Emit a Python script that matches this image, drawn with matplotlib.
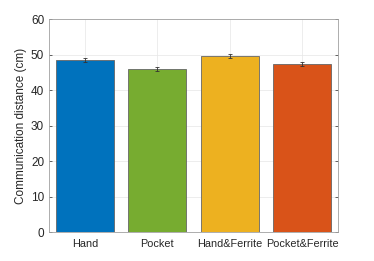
import matplotlib.pyplot as plt

plt.rcParams["font.family"] = ["Liberation Sans", "DejaVu Sans"]

# data
labels = ["Hand", "Pocket", "Hand&Ferrite", "Pocket&Ferrite"]
distance = [48.5, 46.0, 49.6, 47.3]
errors = [0.5, 0.5, 0.5, 0.5]
colors = ["#0072BD", "#77AC30", "#EDB120", "#D95319"]

fig = plt.figure(figsize=(3.74, 2.61), dpi=100)
ax = fig.add_axes([0.131, 0.111, 0.773, 0.816])

x = range(1, len(labels) + 1)
ax.bar(x, distance, width=0.8, color=colors, edgecolor="#666666", linewidth=0.6, zorder=2)
ax.errorbar(x, distance, yerr=errors, fmt="none", ecolor="#333333",
            elinewidth=0.6, capsize=1.5, capthick=0.6, zorder=3)

ax.set_xlim(0.5, 4.5)
ax.set_ylim(0, 60)
ax.set_xticks(list(x))
ax.set_xticklabels(labels)
ax.set_yticks(range(0, 61, 10))
ax.set_ylabel("Communication distance (cm)", fontsize=8.5, color="#262626", labelpad=3)

ax.grid(True, color="#E6E6E6", linewidth=0.5, zorder=0)
ax.set_axisbelow(True)
ax.tick_params(direction="in", length=2.5, width=0.5, labelsize=8.5,
               colors="#262626", top=True, right=True)
ax.tick_params(axis="x", top=False, length=0, pad=5, labelsize=7.8)
for s in ax.spines.values():
    s.set_color("#A0A0A0")
    s.set_linewidth(0.6)

fig.savefig("out.png", dpi=100)
